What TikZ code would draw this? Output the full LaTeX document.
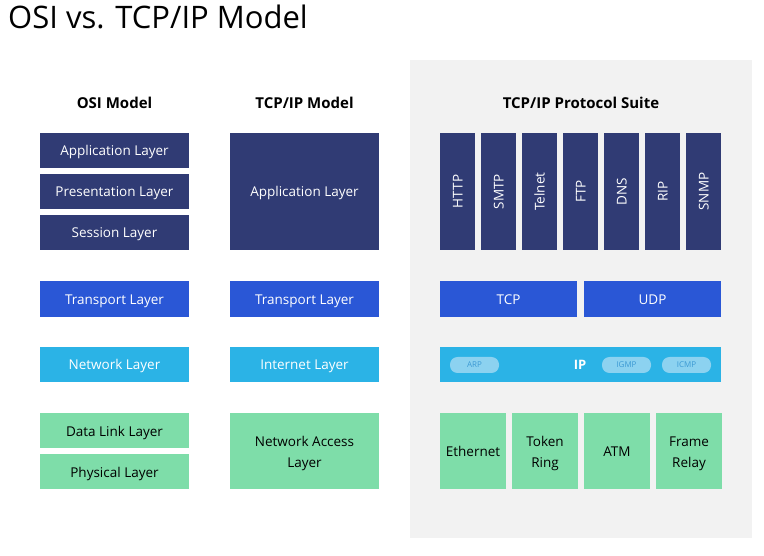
\documentclass[tikz,border=0pt]{standalone}
\usepackage{fontspec}
\setmainfont{Open Sans}
\definecolor{navy}{HTML}{303B74}
\definecolor{tblue}{HTML}{2A57D6}
\definecolor{nblue}{HTML}{2BB3E6}
\definecolor{lgreen}{HTML}{7EDDA9}
\definecolor{panel}{HTML}{F2F2F2}
\definecolor{pillfill}{HTML}{8CD2F0}
\definecolor{pilltext}{HTML}{3C9AD4}
\tikzset{
  lay/.style={inner sep=0pt, align=center, font=\fontsize{13.5}{21}\selectfont, text height=13pt, text depth=2pt},
  twoline/.style={text height=34pt, text depth=1pt},
  navybox/.style={lay, fill=navy, text=white},
  tbox/.style={lay, fill=tblue, text=white},
  nbox/.style={lay, fill=nblue, text=white},
  gbox/.style={lay, fill=lgreen, text=black},
  pill/.style={fill=pillfill, text=pilltext, rounded corners=7.5pt, inner sep=0pt, minimum width=49pt, minimum height=16pt, font=\fontsize{8}{9}\selectfont, text height=6pt, text depth=0pt},
  head/.style={font=\bfseries\fontsize{15}{17}\selectfont, text=black},
  vlabel/.style={text=white, rotate=90, font=\fontsize{13.5}{15}\selectfont, inner sep=0pt, text height=10pt, text depth=0pt},
}
\begin{document}
\begin{tikzpicture}[x=1pt,y=-1pt]
\useasboundingbox[fill=white] (0,0) rectangle (764,556);
\fill[panel] (410,60) rectangle (752,538);
\node[anchor=base west, font=\fontsize{31}{35}\selectfont, inner sep=0pt] (title) at (8,29) {OSI vs. TCP/IP Model};
% headers
\node[head] (h1) at (114.5,103) {OSI Model};
\node[head] (h2) at (304.5,103) {TCP/IP Model};
\node[head] (h3) at (581,103) {TCP/IP Protocol Suite};
% OSI column
\node[navybox, minimum width=149pt, minimum height=35pt] (oapp) at (114.5,150.5) {Application Layer};
\node[navybox, minimum width=149pt, minimum height=35pt] (opres) at (114.5,191.5) {Presentation Layer};
\node[navybox, minimum width=149pt, minimum height=35pt] (oses) at (114.5,232.5) {Session Layer};
\node[tbox, minimum width=149pt, minimum height=36pt] (otr) at (114.5,299) {Transport Layer};
\node[nbox, minimum width=149pt, minimum height=35pt] (onet) at (114.5,364.5) {Network Layer};
\node[gbox, minimum width=149pt, minimum height=35pt] (odl) at (114.5,430.5) {Data Link Layer};
\node[gbox, minimum width=149pt, minimum height=35pt] (oph) at (114.5,471.5) {Physical Layer};
% TCP/IP model column
\node[navybox, minimum width=149pt, minimum height=117pt] (tapp) at (304.5,191.5) {Application Layer};
\node[tbox, minimum width=149pt, minimum height=36pt] (ttr) at (304.5,299) {Transport Layer};
\node[nbox, minimum width=149pt, minimum height=35pt] (tint) at (304.5,364.5) {Internet Layer};
\node[gbox, twoline, minimum width=149pt, minimum height=76pt] (tna) at (304.5,451) {Network Access\\Layer};
% protocol suite
\foreach \n/\x in {HTTP/457.5, SMTP/498.5, Telnet/539.5, FTP/580.5, DNS/621.5, RIP/662.5, SNMP/703.5}{
  \node[navybox, minimum width=35pt, minimum height=117pt] (p\n) at (\x,191.5) {};
  \node[vlabel] (l\n) at (p\n.center) {\n};
}
\node[tbox, minimum width=137pt, minimum height=36pt] (tcp) at (508.5,299) {TCP};
\node[tbox, minimum width=137pt, minimum height=36pt] (udp) at (652.5,299) {UDP};
\node[nbox, minimum width=281pt, minimum height=35pt] (ip) at (580.5,364.5) {};
\node[text=white, font=\bfseries\fontsize{13}{15}\selectfont, inner sep=0pt, text height=9.5pt, text depth=0pt] (iplbl) at (580,365) {IP};
\node[pill] (arp) at (474.5,365) {ARP};
\node[pill] (igmp) at (626.5,365) {IGMP};
\node[pill] (icmp) at (686.5,365) {ICMP};
\node[gbox, minimum width=66pt, minimum height=76pt] (eth) at (473,451) {Ethernet};
\node[gbox, twoline, minimum width=66pt, minimum height=76pt] (tok) at (545,451) {Token\\Ring};
\node[gbox, minimum width=66pt, minimum height=76pt] (atm) at (617,451) {ATM};
\node[gbox, twoline, minimum width=66pt, minimum height=76pt] (fr) at (689,451) {Frame\\Relay};
\end{tikzpicture}
\end{document}
